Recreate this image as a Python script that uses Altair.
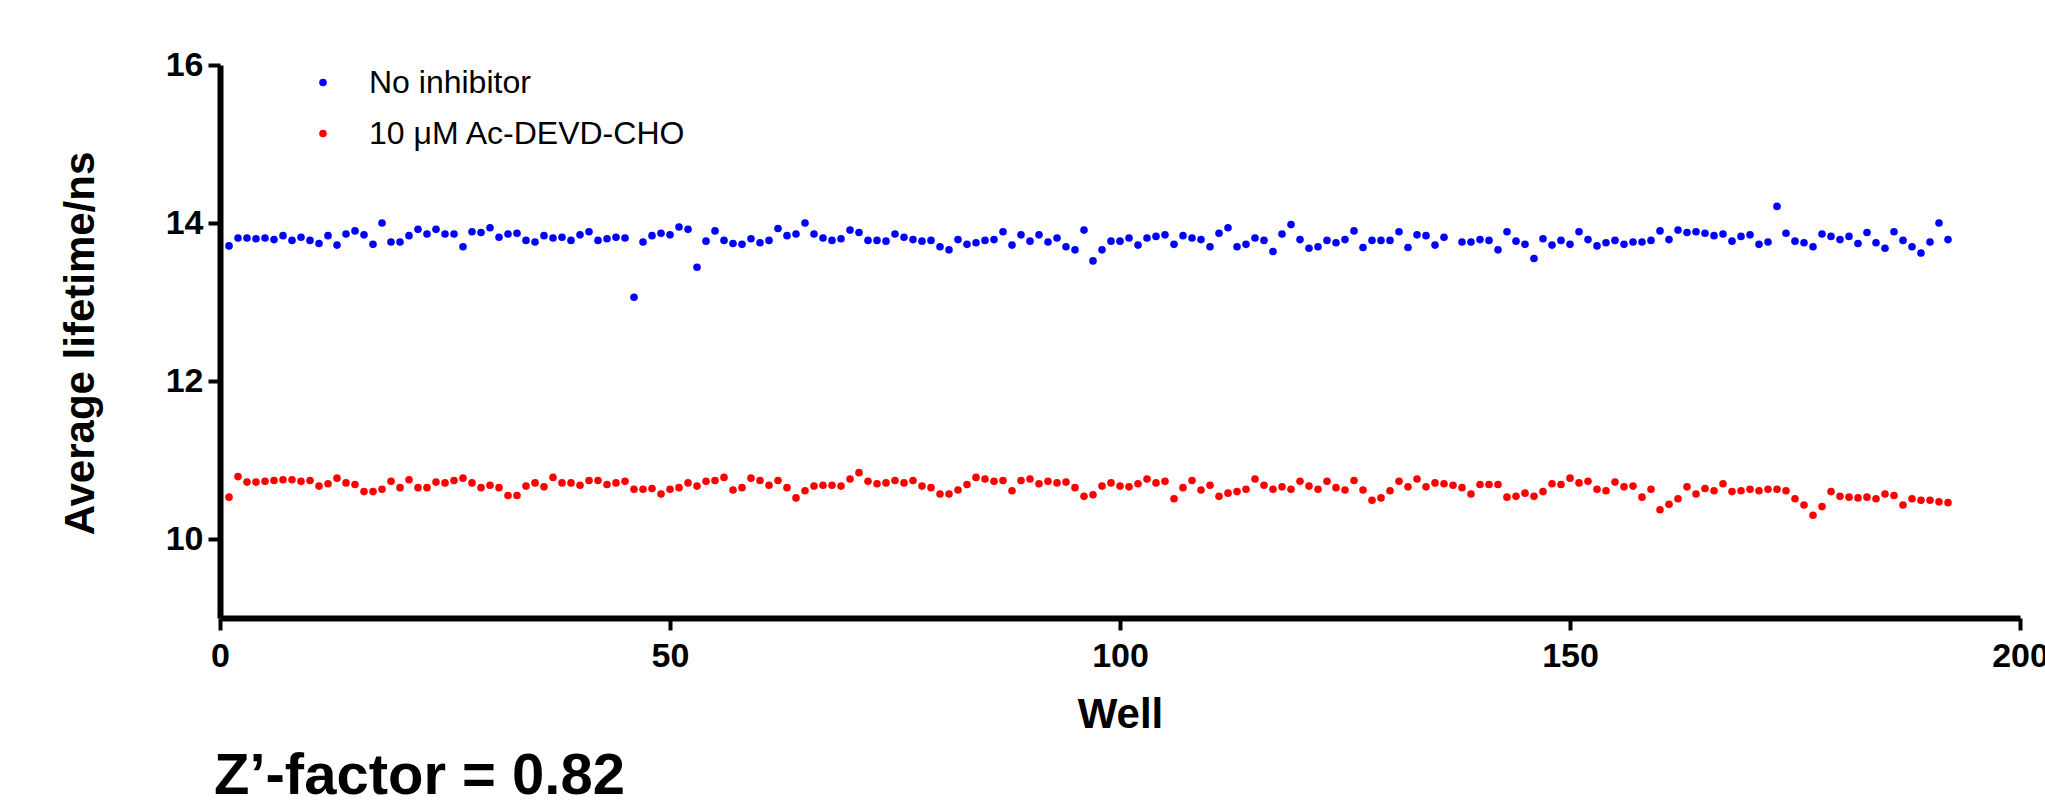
import altair as alt
import pandas as pd

# Average lifetime (ns) per well
no_inhibitor = [
    13.71, 13.81, 13.81, 13.80, 13.81, 13.79, 13.84, 13.78, 13.82, 13.78,
    13.74, 13.84, 13.72, 13.86, 13.90, 13.85, 13.73, 14.00, 13.76, 13.76,
    13.84, 13.92, 13.86, 13.92, 13.86, 13.86, 13.70, 13.89, 13.88, 13.94,
    13.82, 13.86, 13.87, 13.78, 13.76, 13.84, 13.81, 13.82, 13.78, 13.85,
    13.89, 13.78, 13.80, 13.82, 13.81, 13.06, 13.76, 13.84, 13.87, 13.85,
    13.95, 13.92, 13.44, 13.77, 13.90, 13.78, 13.74, 13.73, 13.80, 13.75,
    13.78, 13.93, 13.84, 13.86, 14.00, 13.86, 13.81, 13.78, 13.80, 13.91,
    13.88, 13.78, 13.78, 13.77, 13.86, 13.82, 13.79, 13.77, 13.78, 13.70,
    13.66, 13.79, 13.73, 13.75, 13.78, 13.79, 13.89, 13.72, 13.85, 13.77,
    13.85, 13.76, 13.81, 13.70, 13.66, 13.91, 13.52, 13.66, 13.77, 13.77,
    13.81, 13.72, 13.81, 13.83, 13.85, 13.73, 13.84, 13.81, 13.79, 13.70,
    13.87, 13.94, 13.70, 13.73, 13.81, 13.78, 13.64, 13.86, 13.98, 13.79,
    13.68, 13.70, 13.78, 13.75, 13.79, 13.90, 13.69, 13.78, 13.78, 13.78,
    13.89, 13.69, 13.85, 13.84, 13.72, 13.82, None, 13.76, 13.76, 13.79,
    13.78, 13.66, 13.89, 13.77, 13.73, 13.55, 13.80, 13.72, 13.78, 13.73,
    13.89, 13.79, 13.71, 13.75, 13.78, 13.73, 13.76, 13.76, 13.78, 13.90,
    13.79, 13.91, 13.88, 13.89, 13.87, 13.84, 13.86, 13.77, 13.83, 13.85,
    13.73, 13.76, 14.21, 13.87, 13.77, 13.75, 13.70, 13.86, 13.83, 13.79,
    13.83, 13.74, 13.88, 13.75, 13.68, 13.89, 13.78, 13.70, 13.62, 13.76,
    14.00, 13.79,
]

ac_devd_cho = [
    10.53, 10.79, 10.72, 10.72, 10.73, 10.74, 10.75, 10.75, 10.73, 10.74,
    10.67, 10.70, 10.77, 10.71, 10.69, 10.60, 10.60, 10.63, 10.73, 10.65,
    10.75, 10.65, 10.65, 10.72, 10.71, 10.74, 10.77, 10.71, 10.65, 10.68,
    10.65, 10.55, 10.55, 10.67, 10.71, 10.66, 10.78, 10.71, 10.71, 10.68,
    10.74, 10.74, 10.69, 10.71, 10.73, 10.63, 10.63, 10.64, 10.57, 10.63,
    10.65, 10.71, 10.67, 10.73, 10.74, 10.78, 10.62, 10.65, 10.77, 10.74,
    10.68, 10.74, 10.65, 10.52, 10.61, 10.67, 10.68, 10.68, 10.67, 10.76,
    10.84, 10.73, 10.70, 10.71, 10.74, 10.71, 10.74, 10.67, 10.65, 10.57,
    10.57, 10.62, 10.69, 10.78, 10.76, 10.73, 10.74, 10.61, 10.74, 10.76,
    10.70, 10.73, 10.71, 10.72, 10.65, 10.54, 10.56, 10.67, 10.71, 10.67,
    10.66, 10.70, 10.76, 10.71, 10.73, 10.51, 10.65, 10.74, 10.62, 10.68,
    10.54, 10.58, 10.60, 10.63, 10.76, 10.68, 10.63, 10.66, 10.63, 10.73,
    10.67, 10.63, 10.73, 10.65, 10.62, 10.74, 10.62, 10.49, 10.52, 10.61,
    10.73, 10.66, 10.76, 10.66, 10.71, 10.70, 10.68, 10.65, 10.57, 10.69,
    10.69, 10.69, 10.53, 10.54, 10.58, 10.54, 10.60, 10.70, 10.69, 10.77,
    10.71, 10.73, 10.63, 10.61, 10.72, 10.66, 10.67, 10.53, 10.63, 10.37,
    10.44, 10.51, 10.66, 10.57, 10.64, 10.61, 10.70, 10.60, 10.61, 10.63,
    10.61, 10.63, 10.63, 10.61, 10.51, 10.43, 10.30, 10.41, 10.60, 10.54,
    10.53, 10.52, 10.53, 10.51, 10.57, 10.55, 10.43, 10.51, 10.49, 10.49,
    10.47, 10.46,
]

series_names = ["No inhibitor", "10 \u03bcM Ac-DEVD-CHO"]
series_colors = ["#0000ff", "#ff0000"]
x_ticks = [0, 50, 100, 150, 200]
y_ticks = [10, 12, 14, 16]
annotation = ["Z\u2019-factor = 0.82"]

rows = []
for name, vals in zip(series_names, [no_inhibitor, ac_devd_cho]):
    for i, v in enumerate(vals):
        if v is not None:
            rows.append({"well": i + 1, "lifetime": v, "series": name})
df = pd.DataFrame(rows)

FONT = "Liberation Sans"

points = alt.Chart(df).mark_circle(size=58, opacity=1).encode(
    x=alt.X("well:Q",
            scale=alt.Scale(domain=[0, 200], nice=False, zero=False),
            axis=alt.Axis(values=x_ticks, title="Well", grid=False,
                          labelFontSize=34, labelFontWeight="bold",
                          labelFont=FONT, labelColor="black",
                          labelPadding=9, tickSize=12, tickWidth=4,
                          tickColor="black", domainColor="black",
                          domainWidth=6, titleFontSize=42,
                          titleFontWeight="bold", titleFont=FONT,
                          titleColor="black", titleBaseline="alphabetic",
                          titleY=109, labelFlush=False)),
    y=alt.Y("lifetime:Q",
            scale=alt.Scale(domain=[9, 16], nice=False, zero=False),
            axis=alt.Axis(values=y_ticks, title="Average lifetime/ns",
                          grid=False, labelFontSize=34,
                          labelFontWeight="bold", labelFont=FONT,
                          labelColor="black", labelPadding=5, tickSize=12,
                          tickWidth=4, tickColor="black",
                          domainColor="black", domainWidth=6,
                          titleFontSize=42, titleFontWeight="bold",
                          titleFont=FONT, titleColor="black",
                          titleBaseline="alphabetic", titleAngle=270,
                          titleAlign="center", titleX=-127, titleY=278,
                          labelFlush=False)),
    color=alt.Color("series:N",
                    scale=alt.Scale(domain=series_names, range=series_colors),
                    sort=series_names,
                    legend=alt.Legend(title=None, orient="none",
                                      legendX=87, legendY=1.5,
                                      labelFontSize=32, labelFont=FONT,
                                      labelColor="black", labelOffset=30,
                                      labelLimit=0,
                                      rowPadding=19, padding=0,
                                      symbolType="circle", symbolSize=58,
                                      symbolStrokeWidth=0, symbolOpacity=1)),
)

note = alt.Chart(pd.DataFrame({"t": annotation})).mark_text(
    align="left", baseline="alphabetic", fontSize=58, fontWeight="bold",
    font=FONT, color="black"
).encode(text="t:N", x=alt.value(-6), y=alt.value(729))

chart = alt.layer(points, note).properties(
    width=1800, height=553,
    padding={"left": 220, "top": 65, "right": 25, "bottom": 184},
    autosize=alt.AutoSizeParams(type="none"),
    background="white",
).configure_view(strokeWidth=0, stroke=None)

chart.save("out.html", embed_options={"renderer": "svg", "actions": False})
